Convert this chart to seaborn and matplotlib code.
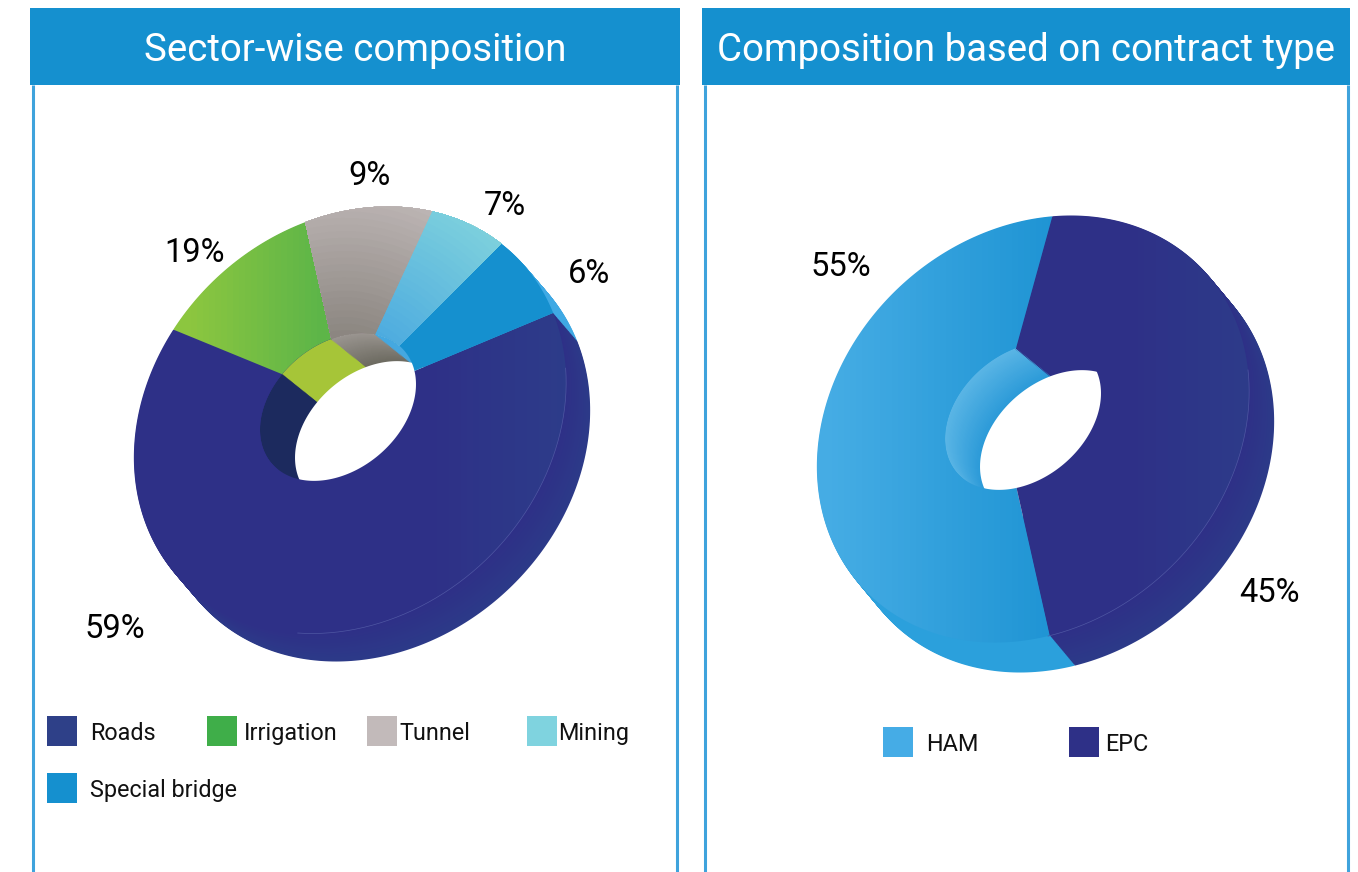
import numpy as np
import seaborn as sns
import matplotlib
matplotlib.use("Agg")
import matplotlib.pyplot as plt
from matplotlib.patches import Rectangle
from matplotlib.path import Path
from matplotlib.colors import to_rgb
from matplotlib.transforms import Bbox, TransformedBbox

# ---- data ----
sector_names = ["Roads", "Irrigation", "Tunnel", "Mining", "Special bridge"]
sector_labels = [59, 19, 9, 7, 6]            # printed percentages
sector_drawn = [62.5, 15.3, 10.4, 5.6, 6.2]  # sweep of each slice as drawn in the picture
contract_names = ["HAM", "EPC"]
contract_labels = [55, 45]
contract_drawn = [57.8, 42.2]

W, H = 1358, 872
sns.set_theme(style="white")
plt.rcParams["font.family"] = ["Roboto", "DejaVu Sans"]
fig = plt.figure(figsize=(W / 100, H / 100), dpi=100, facecolor="white")
ax = fig.add_axes([0, 0, 1, 1])
ax.set_axis_off()


def Y(y):
    return H - y


def lerp(c1, c2, t):
    a, b = np.array(to_rgb(c1)), np.array(to_rgb(c2))
    return tuple(a + (b - a) * float(np.clip(t, 0, 1)))


def ell(cx, cy, a, b, tilt, reverse=False):
    t = np.linspace(0, 2 * np.pi, 361)
    if reverse:
        t = t[::-1]
    r = np.radians(tilt)
    x = cx + a * np.cos(t) * np.cos(r) - b * np.sin(t) * np.sin(r)
    y = Y(cy) + a * np.cos(t) * np.sin(r) + b * np.sin(t) * np.cos(r)
    return np.column_stack([x, y])


def pie(values, colors, center, radius, start, ccw, clip, strip=None):
    wedges, _ = ax.pie(values, colors=colors, center=center, radius=radius, startangle=start,
                       counterclock=ccw, frame=True, normalize=True,
                       wedgeprops=dict(linewidth=0, edgecolor="none"))
    # a fresh copy per call: the Agg renderer caches its clip mask per vertex array
    own = Path(clip.vertices.copy(), clip.codes)
    for w in wedges:
        w.set_clip_on(True)
        w.set_clip_path(own, ax.transData)
        if strip is not None:
            w.set_clip_box(TransformedBbox(Bbox([[strip[0], 0], [strip[1], H]]), ax.transData))


def donut(values, pivot, start, ccw, outer, hole, d_out, d_hole,
          across, radial, side_a, side_b, wall_a, wall_b, rim, rim_color):
    px, py = pivot
    pivot_xy = (px, Y(py))
    big = 420
    # outer side wall
    for t in np.linspace(1, 0.02, 34):
        cols = [lerp(a, b, t) for a, b in zip(side_a, side_b)]
        cl = Path(ell(outer[0] + d_out[0] * t, outer[1] + d_out[1] * t, *outer[2:]), closed=True)
        pie(values, cols, (px + d_out[0] * t, Y(py + d_out[1] * t)), big, start, ccw, cl)
    # inner wall
    for t in np.linspace(0, 1, 34):
        cols = [lerp(a, b, t) for a, b in zip(wall_a, wall_b)]
        cl = Path(ell(hole[0] + d_hole[0] * t, hole[1] + d_hole[1] * t, *hole[2:]), closed=True)
        pie(values, cols, (px + d_hole[0] * t, Y(py + d_hole[1] * t)), big, start, ccw, cl)
    ax.fill(*ell(hole[0] + d_hole[0], hole[1] + d_hole[1], *hole[2:]).T, color="white", lw=0)
    # top ring
    a_ = ell(*outer)
    b_ = ell(*hole, reverse=True)
    ring = Path(np.vstack([a_, b_]),
                np.r_[[Path.MOVETO], [Path.LINETO] * (len(a_) - 2), [Path.CLOSEPOLY],
                      [Path.MOVETO], [Path.LINETO] * (len(b_) - 2), [Path.CLOSEPOLY]])
    # left-to-right shading
    left, right = a_[:, 0].min() - 2, a_[:, 0].max() + 2
    edges = np.arange(np.floor(left), right + 6, 6)
    for x0, x1 in zip(edges[:-1], edges[1:]):
        xm = (x0 + x1) / 2
        cols = [lerp(c0, c1, (xm - xa) / (xb - xa)) if c0 else "none" for c0, c1, xa, xb in across]
        pie(values, cols, pivot_xy, big, start, ccw, ring, strip=(x0, x1))
    # shading outward from the pivot
    if any(radial):
        for r in np.linspace(big, 30, 60):
            t = (r - 50) / 190
            cols = [lerp(s[0], s[1], t) if s else "none" for s in radial]
            pie(values, cols, pivot_xy, r, start, ccw, ring)
    # faint rim where top face meets the side
    t = np.radians(np.linspace(*rim))
    r = np.radians(outer[4])
    ax.plot(outer[0] + outer[2] * np.cos(t) * np.cos(r) - outer[3] * np.sin(t) * np.sin(r),
            Y(outer[1]) + outer[2] * np.cos(t) * np.sin(r) + outer[3] * np.sin(t) * np.cos(r),
            color=rim_color, lw=0.5)


def panel(x0, x1, l0, l1, title):
    for lx in (l0, l1):
        ax.plot([lx, lx], [Y(85), Y(872)], color="#3fa3dc", lw=2.2, solid_capstyle="butt")
    ax.add_patch(Rectangle((x0, Y(85)), x1 - x0, 77, color="#1590cf", lw=0))
    ax.text((x0 + x1) / 2, Y(51), title, color="white", fontsize=27.6, ha="center", va="center")


panel(30, 680, 33, 677, "Sector-wise composition")
panel(702, 1350, 705, 1348, "Composition based on contract type")

donut(sector_drawn, (345, 400), 22.7, False,
      (350, 420, 233, 195, 43), (338, 407, 87, 63, 40), (24, 28), (35, 28),
      [("#2e3087", "#2c3f8a", 430, 600), ("#8cc63f", "#5db548", 190, 320),
       (None, None, 0, 1), (None, None, 0, 1), ("#1590cf", "#1590cf", 0, 1)],
      [None, None, ("#85807a", "#c6bebe"), ("#45a5e0", "#82d4dc"), None],
      ["#2e3087", "#2e3087", "#8a8580", "#5ab8e0", "#3fa9e4"],
      ["#2c3a88", "#2c3a88", "#8a8580", "#5ab8e0", "#3fa9e4"],
      ["#1c2a5e", "#a6c538", "#9a9590", "#45a8e0", "#45a8e0"],
      ["#1c2a5e", "#a6c538", "#6c6a60", "#45a8e0", "#45a8e0"],
      (-142, -34), "#4f57a3")
donut(contract_drawn, (999, 410), 74.6, True,
      (1033, 429, 233, 195, 43), (1023, 416, 87, 63, 40), (25, 30), (35, 28),
      [("#45ace4", "#1d93d3", 830, 1060), ("#2e3087", "#2c3f8a", 1130, 1290)],
      [None, None],
      ["#2ba0dc", "#2e3087"],
      ["#2ba0dc", "#2c3a88"],
      ["#5ab5e5", "#2e3087"],
      ["#2b9ad8", "#2e3087"],
      (-124, -32), "#4f57a3")

# percentage labels
for name, v, (x, y) in zip(sector_names, sector_labels,
                           [(115, 629), (195, 253), (370, 176), (505, 206), (589, 274)]):
    ax.text(x, Y(y), f"{v}%", fontsize=23.5, color="black", ha="center", va="center")
for name, v, (x, y) in zip(contract_names, contract_labels, [(841, 267), (1269, 593)]):
    ax.text(x, Y(y), f"{v}%", fontsize=23.5, color="black", ha="center", va="center")

# legends
legend_pal = sns.color_palette(["#2e4088", "#3fae49", "#c2baba", "#7fd3df", "#1590cf"])
for name, c, (sx, sy, tx) in zip(sector_names, legend_pal,
                                 [(47, 716, 90), (207, 716, 244), (367, 716, 399), (527, 716, 558), (47, 773, 90)]):
    ax.add_patch(Rectangle((sx, Y(sy + 30)), 30, 30, color=c, lw=0))
    ax.text(tx, Y(sy + 17), name, fontsize=16.8, color="#111111", ha="left", va="center")
for name, c, (sx, sy, tx) in zip(contract_names, ["#45ace6", "#2e3087"],
                                 [(883, 727, 926), (1069, 727, 1105)]):
    ax.add_patch(Rectangle((sx, Y(sy + 30)), 30, 30, color=c, lw=0))
    ax.text(tx, Y(sy + 17), name, fontsize=16.8, color="#111111", ha="left", va="center")

ax.set_xlim(0, W)
ax.set_ylim(0, H)
ax.set_aspect("auto")
fig.savefig("out.png", dpi=100, facecolor="white")
